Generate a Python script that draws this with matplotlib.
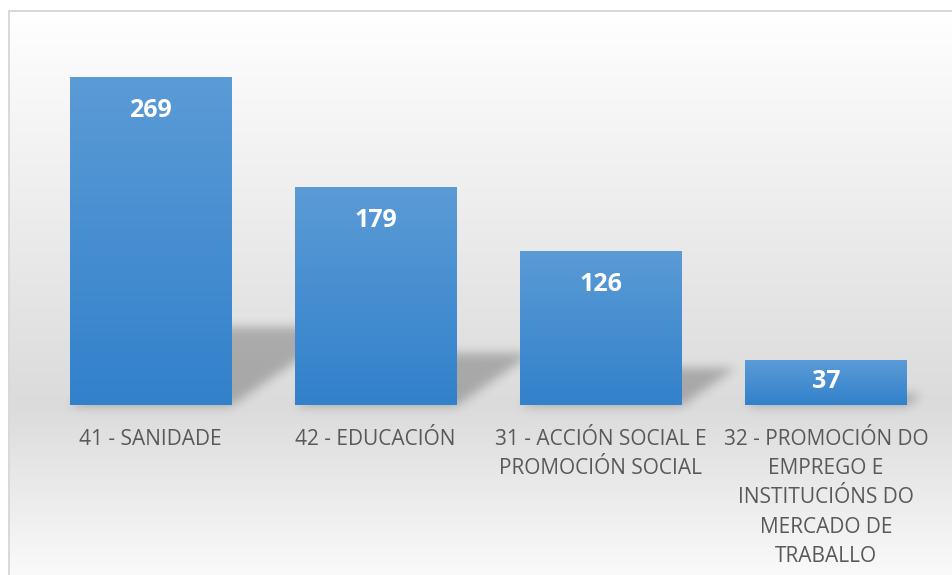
import matplotlib.pyplot as plt
import numpy as np
from matplotlib.path import Path
from matplotlib.colors import LinearSegmentedColormap

# data
categories = ['41 - SANIDADE', '42 - EDUCACIÓN', '31 - ACCIÓN SOCIAL E\nPROMOCIÓN SOCIAL',
              '32 - PROMOCIÓN DO\nEMPREGO E\nINSTITUCIÓNS DO\nMERCADO DE\nTRABALLO']
values = [269, 179, 126, 37]

W, H = 952, 575
fig = plt.figure(figsize=(W / 100, H / 100), dpi=100)

# background: white outside the chart frame, grey gradient inside
bg = fig.add_axes([0, 0, 1, 1])
bg.set_axis_off()
yy = np.arange(H)
grey = np.interp(yy, [0, 11, 405, 575], [255, 255, 219, 250])
img = np.repeat(grey[:, None], W, axis=1)
img[:11, :] = 255
img[:, :9] = 255
img[10:12, 8:] = 217
img[10:, 8:10] = 217
bg.imshow(np.dstack([img, img, img]).astype(np.uint8), extent=[0, W, H, 0], aspect='auto')
bg.set_xlim(0, W)
bg.set_ylim(H, 0)

ax = fig.add_axes([37.4 / W, 170 / H, 901.3 / W, 364.7 / H])
ax.patch.set_alpha(0)
x = np.arange(len(values))
bars = ax.bar(x, values, width=0.715, color='#4a8fd2', zorder=3)

XMIN, XMAX, YMIN, YMAX = -0.5, 3.5, 0, 300
px_x = 901.3 / (XMAX - XMIN)
px_y = 364.7 / (YMAX - YMIN)

# perspective shadows behind the bars (blurred raster)
gx = np.linspace(XMIN, XMAX, 902)
gy = np.linspace(-20, YMAX, 390)
GX, GY = np.meshgrid(gx, gy)
pts = np.column_stack([GX.ravel(), GY.ravel()])
mask = np.zeros(GX.size)
for b in bars:
    x0, x1, h = b.get_x(), b.get_x() + b.get_width(), b.get_height()
    sh = 0.235 * h
    dx = 1.5 * sh * px_y / px_x
    poly = Path([(x0, -1.5), (x1, -1.5), (x1 + dx, sh), (x0 + dx, sh), (x0, -1.5)])
    mask = np.maximum(mask, poly.contains_points(pts))
mask = mask.reshape(GX.shape)
k = np.exp(-0.5 * (np.arange(-15, 16) / 5.0) ** 2)
k /= k.sum()
mask = np.apply_along_axis(lambda r: np.convolve(r, k, mode='same'), 1, mask)
mask = np.apply_along_axis(lambda c: np.convolve(c, k, mode='same'), 0, mask)
shadow = np.zeros(GX.shape + (4,))
shadow[..., 3] = mask * 0.24
im = ax.imshow(shadow, extent=[XMIN, XMAX, -20, YMAX], origin='lower', aspect='auto', zorder=2)
im.set_clip_on(False)

# gradient fill of each bar
cmap = LinearSegmentedColormap.from_list('bar', ['#3281cb', '#5b9bd6'])
grad = np.linspace(0, 1, 256)[:, None]
for b in bars:
    ax.imshow(grad, cmap=cmap, origin='lower', aspect='auto', zorder=4,
              extent=[b.get_x(), b.get_x() + b.get_width(), 0, b.get_height()])

# value labels inside the bar ends
for xi, v in zip(x, values):
    off_px = min(33, 0.48 * v * px_y)
    ax.annotate(str(v), (xi, v), xytext=(0, -off_px * 0.72), textcoords='offset points',
                ha='center', va='center', color='white', fontsize=18,
                fontweight='bold', family='Open Sans', zorder=5)

ax.set_xlim(XMIN, XMAX)
ax.set_ylim(YMIN, YMAX)
ax.set_xticks(x)
ax.set_xticklabels(categories, fontsize=15, color='#595959', family='Open Sans',
                   linespacing=1.52)
ax.tick_params(axis='x', length=0, pad=17)
ax.set_yticks([])
for s in ax.spines.values():
    s.set_visible(False)

plt.savefig('out.png', dpi=100)
